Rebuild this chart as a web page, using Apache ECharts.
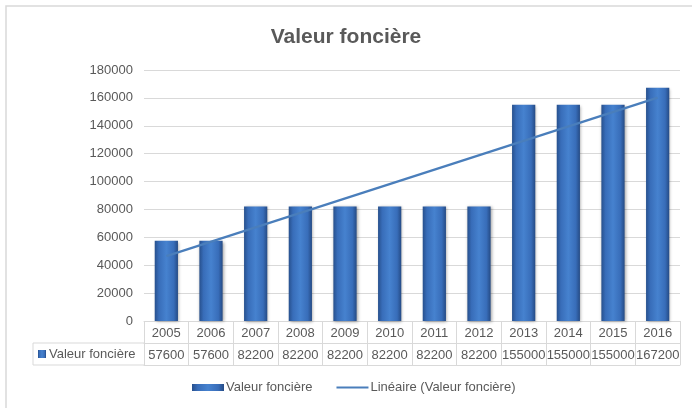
<!DOCTYPE html>
<html>
<head>
<meta charset="utf-8">
<script src="https://cdn.jsdelivr.net/npm/echarts@6/dist/echarts.min.js"></script>
<style>
	html, body { margin: 0; padding: 0; background: #fff; }
	#chart { width: 692px; height: 408px; }
</style>
</head>
<body>
<div id="chart"></div>
<script>
// années et valeurs
const years = ['2005', '2006', '2007', '2008', '2009', '2010', '2011', '2012', '2013', '2014', '2015', '2016'];
const valeurs = [57600, 57600, 82200, 82200, 82200, 82200, 82200, 82200, 155000, 155000, 155000, 167200];
// courbe de tendance linéaire : extrémités
const tendance = [['2005', 46500], ['2016', 160200]];
const yTicks = { min: 0, max: 180000, interval: 20000 };

const grey = '#595959';
const lineGrey = '#d9d9d9';
const font = 'Liberation Sans';

const barColor = new echarts.graphic.LinearGradient(0, 0, 1, 0, [
	{ offset: 0, color: '#27508d' },
	{ offset: 0.18, color: '#386db9' },
	{ offset: 0.5, color: '#4682cf' },
	{ offset: 0.82, color: '#386db9' },
	{ offset: 1, color: '#254b85' }
]);

const myChart = echarts.init(document.getElementById('chart'));
const option = {
	animation: false,
	textStyle: { fontFamily: font },
	title: {
		text: 'Valeur foncière',
		left: 'center',
		top: 22,
		textStyle: { fontSize: 21, fontWeight: 'bold', color: grey, fontFamily: font }
	},
	grid: { left: 144, right: 12, top: 70, bottom: 87 },
	legend: {
		bottom: 9,
		left: 187,
		itemWidth: 32,
		itemHeight: 7,
		itemGap: 24,
		textStyle: { color: grey, fontSize: 13, padding: [0, 0, 0, -3] },
		data: [
			{ name: 'Valeur foncière', icon: 'rect' },
			{ name: 'Linéaire (Valeur foncière)', icon: 'path://M0,0 L32,0 L32,2.2 L0,2.2 Z' }
		]
	},
	xAxis: [
		{
			type: 'category',
			data: years,
			position: 'bottom',
			axisLine: { lineStyle: { color: lineGrey } },
			axisTick: { show: true, length: 44, interval: 0, lineStyle: { color: lineGrey } },
			axisLabel: { color: grey, fontSize: 13, margin: 6, interval: 0 }
		},
		{
			type: 'category',
			data: years,
			position: 'bottom',
			offset: 22,
			axisLine: { lineStyle: { color: lineGrey } },
			axisTick: { show: false },
			axisLabel: {
				color: grey, fontSize: 13, margin: 6, interval: 0,
				formatter: (v, i) => String(valeurs[i])
			}
		},
		{
			type: 'category',
			data: years,
			position: 'bottom',
			offset: 44,
			axisLine: { lineStyle: { color: lineGrey } },
			axisTick: { show: false },
			axisLabel: { show: false }
		}
	],
	yAxis: {
		type: 'value',
		min: yTicks.min,
		max: yTicks.max,
		interval: yTicks.interval,
		axisLine: { show: false },
		axisTick: { show: false },
		axisLabel: { color: grey, fontSize: 13, margin: 11, formatter: v => String(v) },
		splitLine: { lineStyle: { color: lineGrey } }
	},
	series: [
		{
			name: 'Valeur foncière',
			type: 'bar',
			barWidth: '52%',
			data: valeurs,
			itemStyle: {
				color: barColor,
				shadowColor: 'rgba(0,0,0,0.35)',
				shadowBlur: 3,
				shadowOffsetX: 1,
				shadowOffsetY: 1
			}
		},
		{
			name: 'Linéaire (Valeur foncière)',
			type: 'line',
			data: tendance,
			symbol: 'none',
			z: 5,
			lineStyle: { color: '#4a7ebb', width: 2.25 },
			itemStyle: { color: '#4a7ebb' }
		}
	],
	graphic: [
		// cadre du graphique
		{ type: 'rect', shape: { x: 6, y: 6, width: 720, height: 440 }, style: { fill: null, stroke: lineGrey, lineWidth: 1.5 }, silent: true },
		// cellule d'en-tête de la table de données
		{ type: 'polyline', shape: { points: [[144, 343], [33, 343], [33, 365], [144, 365]] }, style: { fill: null, stroke: lineGrey, lineWidth: 1 }, silent: true },
		{ type: 'rect', shape: { x: 38, y: 350, width: 8, height: 8 }, style: { fill: barColor }, silent: true },
		{ type: 'text', left: 49, top: 348, style: { text: 'Valeur foncière', fill: grey, font: '13px "' + font + '"' }, silent: true }
	]
};
myChart.setOption(option);
</script>
</body>
</html>
